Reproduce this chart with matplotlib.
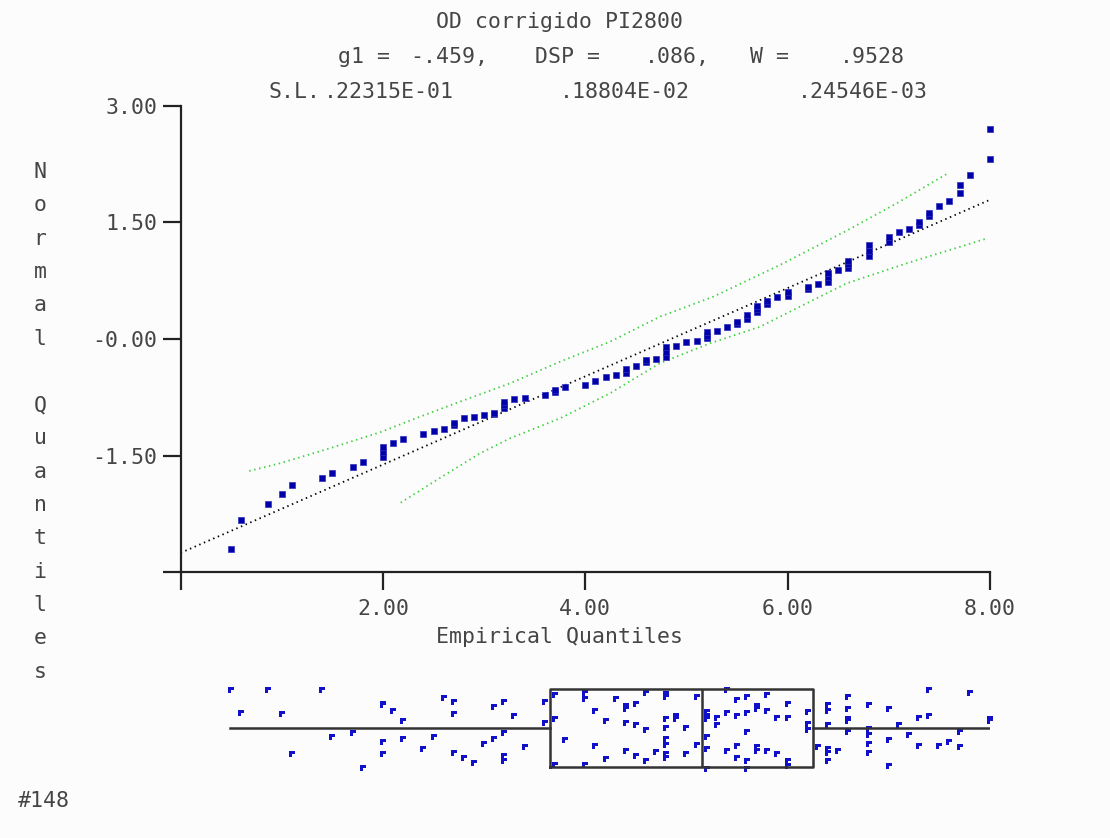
import numpy as np
import matplotlib
matplotlib.use("Agg")
import matplotlib.pyplot as plt

# Q-Q points: empirical value (x) vs normal quantile (y); ties give vertical runs
qq_x = [0.5, 0.6, 0.86, 1.0, 1.1, 1.4, 1.5, 1.7, 1.8,
        2.0, 2.0, 2.0, 2.1, 2.2, 2.4, 2.5, 2.6, 2.7, 2.7, 2.8, 2.9, 3.0,
        3.1, 3.1, 3.2, 3.2, 3.2, 3.3, 3.4, 3.6, 3.7, 3.7, 3.8, 4.0, 4.1, 4.2, 4.3,
        4.4, 4.4, 4.5, 4.6, 4.6, 4.7, 4.8, 4.8, 4.8, 4.9, 5.0, 5.1,
        5.2, 5.2, 5.2, 5.3, 5.4, 5.5, 5.5, 5.6, 5.6, 5.7, 5.7, 5.7, 5.8, 5.8, 5.9,
        6.0, 6.0, 6.2, 6.2, 6.3, 6.4, 6.4, 6.4, 6.5, 6.6, 6.6, 6.6,
        6.8, 6.8, 6.8, 7.0, 7.0, 7.1, 7.2, 7.3, 7.3, 7.4, 7.4, 7.5, 7.6,
        7.7, 7.7, 7.8, 8.0, 8.0]
qq_y = [-2.704, -2.324, -2.122, -1.989, -1.877, -1.787, -1.719, -1.650, -1.582,
        -1.515, -1.45, -1.386, -1.337, -1.282, -1.225, -1.179, -1.157, -1.103, -1.083, -1.020, -0.999, -0.977,
        -0.96, -0.95, -0.881, -0.843, -0.804, -0.772, -0.755, -0.720, -0.679, -0.653, -0.617, -0.588, -0.540, -0.492, -0.463,
        -0.437, -0.383, -0.343, -0.293, -0.273, -0.261, -0.231, -0.171, -0.109, -0.090, -0.042, -0.023,
        0.010, 0.043, 0.084, 0.107, 0.154, 0.195, 0.219, 0.261, 0.311, 0.351, 0.39, 0.428, 0.456, 0.495, 0.534,
        0.550, 0.607, 0.640, 0.671, 0.703, 0.730, 0.792, 0.855, 0.883, 0.913, 0.958, 1.003,
        1.067, 1.138, 1.209, 1.243, 1.318, 1.376, 1.418, 1.470, 1.502, 1.582, 1.616, 1.710, 1.778,
        1.871, 1.983, 2.115, 2.315, 2.700]

# fitted normal line and confidence band
ref_x = [0.0, 8.0]
ref_y = [-2.75, 1.79]
upper_x = [0.678, 0.982, 1.476, 1.970, 2.366, 2.761, 3.256, 3.750, 4.244, 4.738, 5.265, 5.925, 6.584, 7.079, 7.573]
upper_y = [-1.697, -1.598, -1.405, -1.200, -0.999, -0.806, -0.570, -0.292, -0.035, 0.287, 0.544, 0.952, 1.393, 1.745, 2.122]
lower_x = [2.175, 2.531, 2.959, 3.256, 3.750, 4.244, 4.738, 5.233, 5.727, 6.056, 6.584, 7.177, 7.968]
lower_y = [-2.105, -1.813, -1.470, -1.277, -1.020, -0.698, -0.312, -0.055, 0.158, 0.373, 0.716, 0.973, 1.292]

# box plot stats
box_stats = [{'med': 5.15, 'q1': 3.65, 'q3': 6.25, 'whislo': 0.49, 'whishi': 8.0}]

# jittered raw values below the box (x = value, j = vertical jitter)
jit_x = [0.5, 0.86, 1.4, 0.6, 1.0, 2.0, 2.0, 2.1, 2.2, 2.6, 2.7, 2.7, 3.1, 3.2, 3.3, 3.6, 3.6,
         1.5, 1.7, 2.0, 2.2, 2.5, 3.1, 3.2, 3.0, 3.4, 1.1, 2.0, 2.4, 2.7, 2.8, 2.9, 3.2, 3.2, 1.8,
         3.7, 4.0, 4.0, 4.1, 3.7, 3.8, 4.1, 3.7, 4.0,
         4.3, 4.6, 4.8, 4.8, 5.1, 4.4, 4.4, 4.5, 4.2, 4.4, 4.5, 4.6, 4.8, 4.9, 4.9, 4.8, 5.0,
         4.8, 4.8, 5.1, 4.4, 4.7, 4.8, 4.8, 5.0, 4.5, 4.2, 4.6,
         5.4, 5.5, 5.6, 5.8, 6.0, 5.2, 5.2, 5.2, 5.3, 5.3, 5.4, 5.5, 5.6, 5.7, 5.7, 5.8, 5.9, 6.0,
         6.2, 6.2, 6.2, 5.6, 5.2, 5.2, 5.4, 5.5, 5.7, 5.7, 5.8, 5.9, 5.5, 5.6, 6.0, 6.0, 5.2, 5.6,
         6.4, 6.4, 6.4, 6.6, 6.6, 6.6, 6.6, 6.8, 7.0, 7.4, 7.8, 7.3, 7.4, 7.1, 8.0, 8.0,
         6.3, 6.4, 6.4, 6.5, 6.4, 6.6, 6.8, 6.8, 6.8, 6.8, 7.0, 7.0, 7.2, 7.3, 7.5, 7.6, 7.7, 7.7]
jit_y = [37.6, 37.6, 37.6, 14.8, 13.3, 23.8, 22.3, 16.3, 6.0, 29.0, 25.3, 13.3, 20.0, 25.3, 11.3, 25.3, 4.6,
         -9.7, -6.0, -14.7, -11.4, -9.7, -11.4, -6.0, -16.4, -20.0, -27.0, -26.7, -21.7, -25.2, -30.4, -35.7, -28.7, -33.7, -41.0,
         32.3, 34.0, 28.6, 16.3, 8.0, -13.0, -18.2, -37.7, -37.7,
         28.6, 34.0, 33.3, 30.8, 30.6, 21.3, 18.6, 23.6, 6.0, 4.6, 2.8, -2.7, 8.1, 11.8, 8.1, -0.7, -0.7,
         -11.2, -18.0, -18.0, -23.4, -25.0, -26.7, -30.4, -26.7, -28.7, -32.0, -33.7,
         37.3, 27.1, 30.6, 32.3, 23.6, 15.1, 11.8, 8.3, 9.8, 2.8, 14.8, 11.5, 14.8, 21.3, 18.8, 16.6, 9.8, 9.8,
         15.0, 3.0, -2.7, -4.4, -9.5, -21.7, -23.4, -18.2, -20.0, -23.4, -23.4, -26.7, -30.4, -33.7, -33.7, -38.7, -41.2, -41.2,
         22.1, 16.6, 2.8, 30.6, 18.3, 8.8, 6.3, 22.0, 18.3, 37.5, 34.0, 9.8, 11.6, 2.8, 8.3, 6.3,
         -19.9, -21.7, -25.2, -23.4, -33.7, -4.2, -2.0, -7.9, -16.5, -25.2, -13.0, -39.0, -7.9, -18.2, -18.2, -14.7, -4.4, -19.9]

y_label = "Normal Quantiles"
W, H = 1110, 838
txt = '#454545'
mono = 'DejaVu Sans Mono'
fs = 15.5

fig = plt.figure(figsize=(W / 100, H / 100), dpi=100, facecolor='#fcfcfc')

ax = fig.add_axes([180.7 / W, 1 - 572.3 / H, 809.2 / W, 466.6 / H])
ax.set_facecolor('#fcfcfc')
ax.plot(ref_x, ref_y, color='black', lw=1.3, linestyle=(0, (0.8, 2.0)))
ax.plot(upper_x, upper_y, color='#3ccf3c', lw=1.3, linestyle=(0, (0.8, 2.0)))
ax.plot(lower_x, lower_y, color='#3ccf3c', lw=1.3, linestyle=(0, (0.8, 2.0)))
ax.plot(qq_x, qq_y, 's', color='#0000a8', markersize=4.4, markeredgewidth=0.5,
        markeredgecolor='#3030c0', clip_on=False)
ax.set_xlim(0, 8)
ax.set_ylim(-3, 3)
for s in ['top', 'right']:
    ax.spines[s].set_visible(False)
for s in ['left', 'bottom']:
    ax.spines[s].set_linewidth(1.6)
    ax.spines[s].set_color('#222222')
ax.set_xticks([0, 2, 4, 6, 8])
ax.set_xticklabels(['', '2.00', '4.00', '6.00', '8.00'])
ax.set_yticks([-3, -1.5, 0, 1.5, 3])
ax.set_yticklabels(['', '-1.50', '-0.00', '1.50', '3.00'])
ax.tick_params(direction='out', length=13, width=1.6, color='#222222',
               labelsize=fs, labelcolor=txt)
ax.tick_params(axis='x', pad=6)
ax.tick_params(axis='y', pad=4)
for lab in ax.get_xticklabels() + ax.get_yticklabels():
    lab.set_family(mono)

# box + jitter strip
ax2 = fig.add_axes([180.7 / W, 1 - 775 / H, 809.2 / W, 95 / H])
ax2.set_xlim(0, 8)
ax2.set_ylim(-47.7, 47.3)
ax2.axis('off')
lp = dict(color='#333333', linewidth=1.8)
ax2.bxp(box_stats, positions=[-0.85], widths=78.3, vert=False, showcaps=False,
        showfliers=False, boxprops=lp, whiskerprops=lp, medianprops=lp)
marker = [(-1, 1), (1, 1), (1, 0), (0, 0), (0, -1), (-1, -1), (-1, 1)]
ax2.scatter(jit_x, jit_y, marker=marker, s=20, color='#1010c8', linewidths=0, clip_on=False)

# titles
fig.text(560 / W, 1 - 22 / H, 'OD corrigido PI2800', ha='center', va='center',
         family=mono, fontsize=fs, color=txt)
row2 = [('g1 =', 338), ('-.459,', 410), ('DSP =', 535), ('.086,', 645), ('W =', 750), ('.9528', 840)]
for s, xp in row2:
    fig.text(xp / W, 1 - 57 / H, s, ha='left', va='center', family=mono, fontsize=fs, color=txt)
row3 = [('S.L.', 268), ('.22315E-01', 324), ('.18804E-02', 560), ('.24546E-03', 798)]
for s, xp in row3:
    fig.text(xp / W, 1 - 92 / H, s, ha='left', va='center', family=mono, fontsize=fs, color=txt)

fig.text(560 / W, 1 - 637 / H, 'Empirical Quantiles', ha='center', va='center',
         family=mono, fontsize=fs, color=txt)
for i, ch in enumerate(y_label):
    if ch != ' ':
        fig.text(40 / W, 1 - (172 + 33.3 * i) / H, ch, ha='center', va='center',
                 family=mono, fontsize=fs, color=txt)
fig.text(18 / W, 1 - 801 / H, '#148', ha='left', va='center', family=mono, fontsize=fs, color=txt)

fig.savefig('out.png', dpi=100, facecolor=fig.get_facecolor())
